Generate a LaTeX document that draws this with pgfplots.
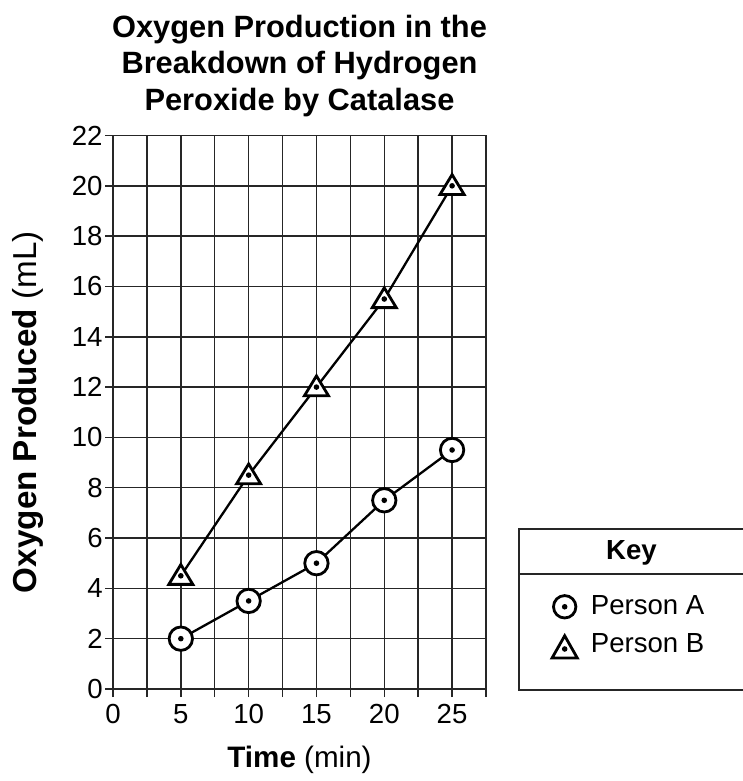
\documentclass[border=0pt]{standalone}
\usepackage{pgfplots}
\pgfplotsset{compat=1.18}
\usepackage{fontspec}
\setmainfont{Liberation Sans}

\pgfdeclareplotmark{dcirc}{%
  \pgfpathcircle{\pgfpointorigin}{5.85pt}\pgfusepathqfillstroke
  \begin{pgfscope}\pgfsetfillcolor{black}%
  \pgfpathcircle{\pgfpointorigin}{1.4pt}\pgfusepathqfill\end{pgfscope}}
\pgfdeclareplotmark{dtri}{%
  \pgfsetmiterjoin
  \pgfpathmoveto{\pgfpoint{0pt}{5.6pt}}%
  \pgfpathlineto{\pgfpoint{-6pt}{-4.3pt}}%
  \pgfpathlineto{\pgfpoint{6pt}{-4.3pt}}%
  \pgfpathclose\pgfusepathqfillstroke
  \begin{pgfscope}\pgfsetfillcolor{black}%
  \pgfpathcircle{\pgfpointorigin}{1.4pt}\pgfusepathqfill\end{pgfscope}}
\pgfdeclareplotmark{dcircL}{%
  \pgfpathcircle{\pgfpointorigin}{5.6pt}\pgfusepathqfillstroke
  \begin{pgfscope}\pgfsetfillcolor{black}%
  \pgfpathcircle{\pgfpointorigin}{1.4pt}\pgfusepathqfill\end{pgfscope}}
\pgfdeclareplotmark{dtriL}{%
  \pgfsetmiterjoin
  \pgfpathmoveto{\pgfpoint{0pt}{6.6pt}}%
  \pgfpathlineto{\pgfpoint{-6.3pt}{-4.5pt}}%
  \pgfpathlineto{\pgfpoint{6.3pt}{-4.5pt}}%
  \pgfpathclose\pgfusepathqfillstroke
  \begin{pgfscope}\pgfsetfillcolor{black}%
  \pgfpathcircle{\pgfpointorigin}{1.4pt}\pgfusepathqfill\end{pgfscope}}

\pgfplotstableread{
x y
5 2
10 3.5
15 5
20 7.5
25 9.5
}\personA
\pgfplotstableread{
x y
5 4.5
10 8.5
15 12
20 15.5
25 20
}\personB

\begin{document}
\begin{tikzpicture}
\useasboundingbox (0pt,0pt) rectangle (371.5pt,390.5pt);
\begin{axis}[
  at={(56.5pt,46pt)}, anchor=south west,
  scale only axis, width=186.5pt, height=276.75pt,
  xmin=0, xmax=27.5, ymin=0, ymax=22,
  xtick={0,5,...,25}, minor xtick={2.5,7.5,...,27.5},
  ytick={0,2,...,22},
  grid=both,
  major grid style={black!85, line width=0.75pt},
  minor grid style={black!85, line width=0.75pt},
  axis line style={black!85, line width=0.75pt},
  tick style={black!85, line width=0.75pt},
  tick align=outside, tick pos=left,
  major tick length=4pt, minor tick length=4pt,
  /pgf/number format/assume math mode=true,
  tick label style={font=\fontsize{13.8}{16}\selectfont},
  yticklabel style={inner xsep=1pt},
  xticklabel style={inner ysep=3.5pt},
  title={Oxygen Production in the\\Breakdown of Hydrogen\\Peroxide by Catalase},
  title style={at={(0.5,1)}, anchor=north, yshift=54.5pt, align=center,
    font=\bfseries\fontsize{15.4}{18.3}\selectfont, inner sep=0pt},
  xlabel={\textbf{Time} (min)},
  xlabel style={at={(axis description cs:0.5,-0.1427)}, anchor=base,
    font=\fontsize{14.8}{17}\selectfont, inner sep=0pt},
  ylabel={\textbf{Oxygen Produced} (mL)},
  ylabel style={at={(axis description cs:-0.2064,0.5)}, anchor=base,
    font=\fontsize{16.6}{19}\selectfont, inner sep=0pt},
  legend style={at={(axis description cs:1.1761,0.1695)}, anchor=north west,
    draw=none, fill=none, inner sep=0pt, nodes={inner sep=0pt},
    column sep=6.8pt, row sep=8pt,
    font=\fontsize{13.8}{16}\selectfont},
  legend cell align=left,
  clip=false,
]
\addplot[only marks, mark=dcirc, mark options={fill=white, draw=black, line width=1.4pt},
  legend image code/.code={\draw[black, fill=white, line width=1.4pt] plot[mark=dcircL, only marks] coordinates {(0pt,0pt)};}]
  table[x=x,y=y] {\personA};
\addlegendentry{Person A}
\addplot[only marks, mark=dtri, mark options={fill=white, draw=black, line width=1.4pt},
  legend image code/.code={\draw[black, fill=white, line width=1.4pt] plot[mark=dtriL, only marks] coordinates {(0pt,-2pt)};}]
  table[x=x,y=y] {\personB};
\addlegendentry{Person B}
\addplot[black, line width=1.15pt, no marks, forget plot] table[x=x,y=y] {\personA};
\addplot[black, line width=1.15pt, no marks, forget plot] table[x=x,y=y] {\personB};
\end{axis}
\draw[black!85, line width=0.75pt] (371.5pt,126pt) -- (259.5pt,126pt) -- (259.5pt,45.5pt) -- (371.5pt,45.5pt);
\draw[black!85, line width=0.75pt] (259.5pt,103.5pt) -- (371.5pt,103.5pt);
\node[font=\bfseries\fontsize{13.8}{16}\selectfont, anchor=base, inner sep=0pt] at (315.75pt,110.6pt) {Key};
\end{tikzpicture}
\end{document}
